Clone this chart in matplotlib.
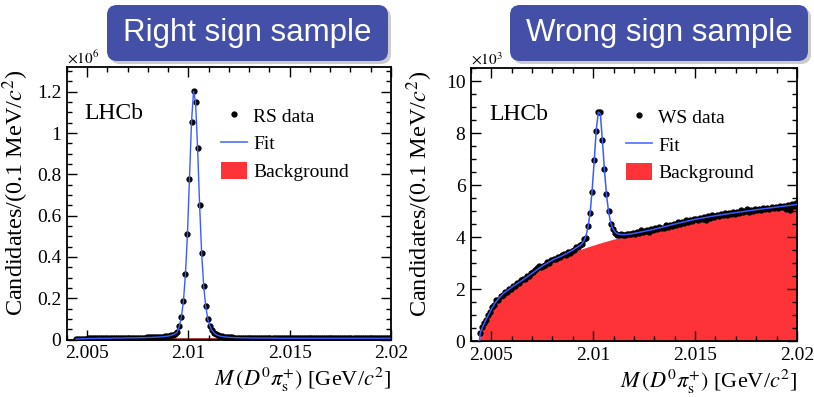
import numpy as np
import matplotlib
matplotlib.use("Agg")
import matplotlib.pyplot as plt
from matplotlib.lines import Line2D
from matplotlib.patches import Patch, FancyBboxPatch
from matplotlib.ticker import MultipleLocator, FuncFormatter

plt.rcParams["font.family"] = ["Liberation Serif", "DejaVu Serif"]
plt.rcParams["mathtext.fontset"] = "stix"

# 0.1 MeV bins starting just above the D0 pi threshold
bin_first = 2.00445
bin_width = 0.0001

# right-sign candidates per bin, in units of 10^6
rs_counts = [
    0.002, 0.003, 0.003, 0.004, 0.004, 0.004, 0.005, 0.005, 0.005, 0.005,
    0.005, 0.006, 0.006, 0.006, 0.006, 0.006, 0.006, 0.006, 0.007, 0.007,
    0.007, 0.007, 0.007, 0.007, 0.007, 0.008, 0.008, 0.008, 0.008, 0.008,
    0.008, 0.009, 0.009, 0.009, 0.009, 0.010, 0.010, 0.010, 0.011, 0.011,
    0.012, 0.012, 0.013, 0.014, 0.015, 0.016, 0.018, 0.020, 0.024, 0.029,
    0.036, 0.064, 0.110, 0.186, 0.315, 0.512, 0.778, 1.054, 1.202, 1.151,
    0.927, 0.651, 0.419, 0.260, 0.162, 0.101, 0.067, 0.046, 0.033, 0.025,
    0.020, 0.017, 0.015, 0.013, 0.012, 0.011, 0.010, 0.010, 0.009, 0.009,
    0.009, 0.008, 0.008, 0.008, 0.008, 0.008, 0.007, 0.007, 0.007, 0.007,
    0.007, 0.007, 0.007, 0.007, 0.007, 0.007, 0.007, 0.007, 0.007, 0.007,
    0.006, 0.006, 0.006, 0.006, 0.006, 0.006, 0.006, 0.006, 0.006, 0.006,
    0.006, 0.006, 0.006, 0.006, 0.006, 0.006, 0.006, 0.006, 0.006, 0.006,
    0.006, 0.006, 0.006, 0.006, 0.006, 0.006, 0.006, 0.006, 0.006, 0.006,
    0.006, 0.006, 0.006, 0.006, 0.006, 0.006, 0.006, 0.006, 0.006, 0.006,
    0.006, 0.006, 0.006, 0.006, 0.006, 0.006, 0.006, 0.006, 0.006, 0.006,
    0.006, 0.006, 0.006, 0.006, 0.006, 0.006,
]
rs_bkg_mass = [2.00441, 2.0046, 2.0050, 2.0060, 2.0080, 2.0100, 2.0120, 2.0150, 2.0200]
rs_bkg = [0.0, 0.0012, 0.0020, 0.0028, 0.0036, 0.0042, 0.0046, 0.0050, 0.0054]

# wrong-sign candidates per bin, in units of 10^3
ws_counts = [
    0.32, 0.55, 0.72, 0.84, 1.02, 1.13, 1.33, 1.41, 1.58, 1.61,
    1.76, 1.79, 1.90, 1.91, 2.03, 2.02, 2.14, 2.13, 2.25, 2.23,
    2.36, 2.40, 2.39, 2.52, 2.51, 2.63, 2.66, 2.74, 2.84, 2.88,
    2.85, 2.90, 2.95, 3.04, 3.03, 3.14, 3.17, 3.16, 3.25, 3.23,
    3.31, 3.35, 3.33, 3.42, 3.40, 3.48, 3.53, 3.61, 3.62, 3.72,
    3.73, 3.93, 3.99, 4.43, 4.94, 5.75, 6.98, 8.08, 8.80, 8.80,
    7.75, 6.61, 5.65, 5.02, 4.53, 4.31, 4.18, 4.09, 4.08, 4.13,
    4.10, 4.09, 4.12, 4.14, 4.11, 4.16, 4.13, 4.20, 4.17, 4.27,
    4.19, 4.25, 4.28, 4.22, 4.33, 4.29, 4.35, 4.30, 4.41, 4.36,
    4.37, 4.46, 4.40, 4.49, 4.44, 4.52, 4.49, 4.58, 4.52, 4.60,
    4.56, 4.65, 4.59, 4.66, 4.62, 4.70, 4.72, 4.67, 4.75, 4.70,
    4.79, 4.68, 4.80, 4.76, 4.84, 4.79, 4.85, 4.81, 4.89, 4.84,
    4.93, 4.86, 4.92, 4.88, 4.98, 4.91, 4.97, 4.93, 5.03, 4.96,
    5.01, 5.07, 4.98, 5.04, 5.01, 5.09, 5.03, 5.10, 5.06, 5.14,
    5.07, 5.13, 5.09, 5.17, 5.11, 5.16, 5.13, 5.20, 5.15, 5.22,
    5.08, 5.24, 5.06, 5.27, 5.21, 5.30,
]
ws_fit_mass = [
    2.00441, 2.00445, 2.0045, 2.0046, 2.0047, 2.0048, 2.0049, 2.0050, 2.0052,
    2.0054, 2.0056, 2.0060, 2.0065, 2.0070, 2.0075, 2.0080, 2.0085, 2.0090,
    2.00915, 2.00925, 2.00935, 2.00945, 2.00955, 2.00965, 2.00975, 2.00985,
    2.00995, 2.01005, 2.01015, 2.01025, 2.01035, 2.01045, 2.01055, 2.01065,
    2.01075, 2.01085, 2.01095, 2.01105, 2.01115, 2.01125, 2.01135, 2.0115,
    2.01175, 2.0120, 2.0125, 2.0130, 2.0140, 2.0150, 2.0160, 2.0170, 2.0180,
    2.0190, 2.0200,
]
ws_fit = [
    0.00, 0.30, 0.42, 0.60, 0.78, 0.93, 1.08, 1.24, 1.50,
    1.69, 1.85, 2.08, 2.34, 2.62, 2.90, 3.13, 3.30, 3.51,
    3.59, 3.64, 3.69, 3.75, 3.87, 4.07, 4.41, 4.96,
    5.84, 6.96, 8.14, 8.81, 8.74, 7.71, 6.59, 5.64,
    5.00, 4.58, 4.35, 4.22, 4.15, 4.12, 4.11, 4.10,
    4.12, 4.15, 4.23, 4.31, 4.51, 4.69, 4.83, 4.95, 5.06,
    5.16, 5.26,
]
ws_bkg_mass = [
    2.00441, 2.00445, 2.0045, 2.0046, 2.0047, 2.0048, 2.0049, 2.0050, 2.0052,
    2.0054, 2.0056, 2.0060, 2.0065, 2.0070, 2.0075, 2.0080, 2.0085, 2.0090,
    2.0095, 2.0100, 2.0105, 2.0110, 2.0115, 2.0120, 2.0130, 2.0140, 2.0150,
    2.0160, 2.0170, 2.0180, 2.0190, 2.0200,
]
ws_bkg = [
    0.00, 0.28, 0.40, 0.58, 0.76, 0.91, 1.06, 1.22, 1.48,
    1.67, 1.83, 2.06, 2.32, 2.60, 2.87, 3.10, 3.27, 3.44,
    3.57, 3.70, 3.82, 3.93, 4.02, 4.11, 4.29, 4.49, 4.67,
    4.81, 4.93, 5.04, 5.14, 5.24,
]

mass = bin_first + bin_width * np.arange(len(rs_counts))

fit_blue = "#3a5cff"
bkg_red = "#fd3337"
box_blue = "#4450a7"

fig = plt.figure(figsize=(8.14, 3.97), dpi=100)
ax_rs = fig.add_axes([0.0823, 0.1448, 0.3980, 0.6864])
ax_ws = fig.add_axes([0.5786, 0.1398, 0.4005, 0.6889])


def style_axes(ax, ymax, ymajor, yminor, scale_text, leg_label):
    ax.set_xlim(2.004, 2.020)
    ax.set_ylim(0, ymax)
    ax.xaxis.set_major_locator(MultipleLocator(0.005))
    ax.xaxis.set_minor_locator(MultipleLocator(0.001))
    ax.yaxis.set_major_locator(MultipleLocator(ymajor))
    ax.yaxis.set_minor_locator(MultipleLocator(yminor))
    fmt = FuncFormatter(lambda v, p: "%g" % round(v, 6))
    ax.xaxis.set_major_formatter(fmt)
    ax.yaxis.set_major_formatter(fmt)
    ax.tick_params(which="both", direction="in", top=True, right=True,
                   labelsize=14, width=1.0)
    ax.tick_params(which="major", length=7, pad=4)
    ax.tick_params(which="minor", length=3.5)
    for s in ax.spines.values():
        s.set_linewidth(1.3)
    ax.set_xlabel(r"$M\,(D^{0}\pi_{\rm s}^{+})$ [GeV/$c^{2}$]", fontsize=16, loc="right")
    ax.xaxis.set_label_coords(1.0, -0.095)
    ax.set_ylabel(r"Candidates/(0.1 MeV/$c^{2}$)", fontsize=17.5, loc="top")
    ax.yaxis.set_label_coords(-0.11, 0.99)
    ax.text(0.0, 1.0, scale_text, transform=ax.transAxes, fontsize=11,
            ha="left", va="bottom")
    ax.text(0.055, 0.83, "LHCb", transform=ax.transAxes, fontsize=17,
            ha="left", va="center")
    handles = [
        Line2D([], [], ls="none", marker="o", ms=3.5, color="black"),
        Line2D([], [], color="#5b7bff", lw=1.3),
        Patch(facecolor=bkg_red, edgecolor="none"),
    ]
    ax.legend(handles, [leg_label, "Fit", "Background"], loc="upper left",
              bbox_to_anchor=(0.475, 0.855), frameon=False, fontsize=14,
              handlelength=1.35, handleheight=1.0, handletextpad=0.3,
              labelspacing=0.42, borderaxespad=0.0, borderpad=0.0)


# right sign
ax_rs.fill_between(rs_bkg_mass, rs_bkg, color=bkg_red, lw=0, zorder=1)
ax_rs.plot(rs_bkg_mass, rs_bkg, color="#b03535", lw=0.8, zorder=1)
ax_rs.plot(mass, rs_counts, ls="none", marker="o", ms=3.5, color="black", zorder=2)
ax_rs.plot(mass, rs_counts, color=fit_blue, lw=1.0, zorder=3)
style_axes(ax_rs, 1.32, 0.2, 0.05, r"$\times10^{6}$", "RS data")

# wrong sign
ax_ws.fill_between(ws_bkg_mass, ws_bkg, color=bkg_red, lw=0, zorder=1)
ax_ws.plot(mass, ws_counts, ls="none", marker="o", ms=3.5, color="black", zorder=2)
ax_ws.plot(ws_fit_mass, ws_fit, color=fit_blue, lw=1.1, zorder=3)
style_axes(ax_ws, 10.5, 2, 0.5, r"$\times10^{3}$", "WS data")

# sample banners
for x0, width, label in [(1.07, 2.81, "Right sign sample"),
                         (5.10, 2.98, "Wrong sign sample")]:
    y0, h = 3.36, 0.56
    shadow = FancyBboxPatch((x0 + 0.03, y0 - 0.03), width, h,
                            boxstyle="round,pad=0,rounding_size=0.1",
                            transform=fig.dpi_scale_trans, fc="#9a9a9a",
                            ec="none", alpha=0.5)
    box = FancyBboxPatch((x0, y0), width, h,
                         boxstyle="round,pad=0,rounding_size=0.1",
                         transform=fig.dpi_scale_trans, fc=box_blue, ec="none")
    fig.patches.extend([shadow, box])
    fig.text(x0 + width / 2, y0 + h / 2, label, transform=fig.dpi_scale_trans,
             ha="center", va="center", color="white", fontsize=22.5,
             family=["Liberation Sans", "DejaVu Sans"])

fig.savefig("out.png", dpi=100)
